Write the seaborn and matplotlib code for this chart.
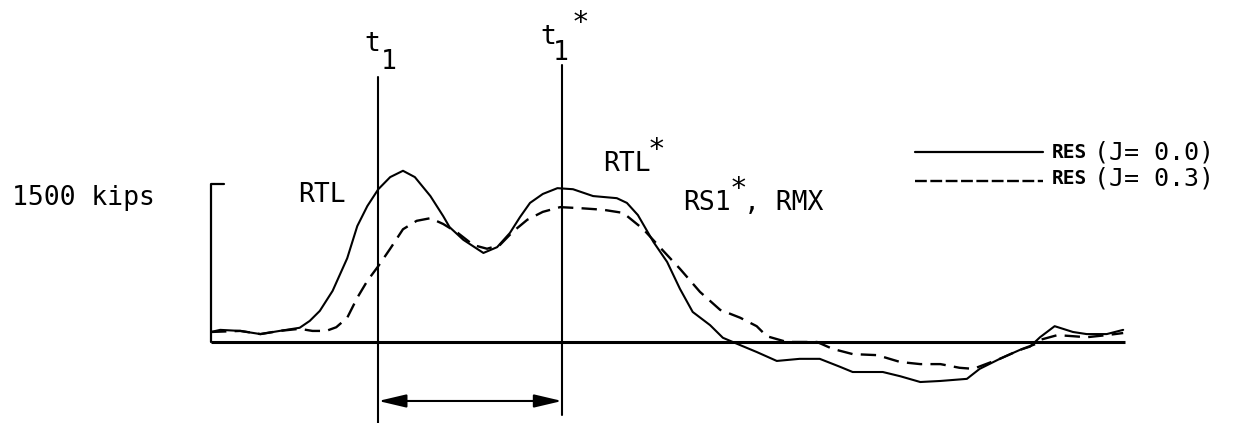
import matplotlib
matplotlib.use("Agg")
import matplotlib.pyplot as plt
import seaborn as sns
import pandas as pd

# ---------------- data ----------------
# time (arbitrary units, 0..100 along the base line) and resistance (kips)
t_j00 = [0, 1.0, 3.2, 5.4, 7.5, 9.7, 10.8, 11.9, 13.3, 14.9, 16.0, 17.1, 18.3, 19.6, 21.0,
         22.3, 24.0, 25.4, 26.1, 27.6, 29.8, 31.3, 32.7, 33.8, 34.9, 36.3, 37.9, 39.6, 41.8,
         44.4, 45.5, 46.7, 48.4, 49.9, 51.3, 52.7, 54.6, 56.0, 57.9, 59.7, 61.9, 64.4, 66.6,
         68.8, 70.2, 73.5, 75.4, 77.6, 79.8, 82.7, 84.1, 86.3, 88.5, 89.6, 90.7, 92.3, 94.3,
         95.8, 98.0, 99.8]
res_j00 = [95, 115, 105, 75, 105, 135, 200, 295, 485, 795, 1100, 1290, 1450, 1565, 1625,
           1565, 1385, 1195, 1090, 970, 845, 900, 1035, 1185, 1320, 1405, 1460, 1450, 1385,
           1365, 1320, 1205, 950, 760, 505, 285, 160, 40, -30, -95, -180, -160, -160,
           -235, -285, -285, -325, -380, -370, -350, -255, -160, -75, -45, 45, 150, 95,
           75, 75, 115]

t_j03 = [0, 3.2, 5.4, 7.5, 9.7, 11.1, 12.6, 13.7, 14.9, 16.0, 17.1, 18.3, 19.6, 21.0, 22.5,
         24.0, 25.4, 27.0, 28.7, 30.2, 31.6, 33.0, 34.6, 36.3, 38.2, 40.4, 42.9, 45.1, 47.3,
         49.1, 51.3, 53.5, 55.7, 57.9, 59.7, 60.8, 63.0, 66.3, 68.0, 70.2, 72.9, 75.4, 77.6,
         79.8, 81.9, 83.4, 86.3, 88.5, 90.2, 90.7, 92.6, 94.3, 95.8, 98.0, 99.8]
res_j03 = [95, 105, 75, 105, 125, 105, 105, 140, 230, 420, 580, 720, 885, 1070, 1150,
           1175, 1120, 1035, 920, 885, 920, 1045, 1160, 1235, 1280, 1270, 1255, 1225, 1070,
           900, 695, 475, 305, 230, 150, 55, 0, 0, -65, -115, -125, -190, -210,
           -210, -245, -255, -160, -75, -20, 20, 65, 55, 45, 65, 85]

series_labels = ["RES (J= 0.0)", "RES (J= 0.3)"]
t_start, t_end = 0, 100
t1, t1_star = 18.3, 38.4
scale_kips = 1500

# ---------------- figure ----------------
sns.set_theme(style="white")
plt.rcParams['font.family'] = ['DejaVu Sans Mono', 'DejaVu Sans']
plt.rcParams['text.color'] = 'black'

fig = plt.figure(figsize=(12.58, 4.23), dpi=100)
ax = fig.add_axes([0, 0, 1, 1])
ax.set_xlim(-23.09, 114.55)
ax.set_ylim(-769, 3246)
ax.axis("off")

df = pd.concat([
    pd.DataFrame({"t": t_j00, "kips": res_j00, "series": series_labels[0]}),
    pd.DataFrame({"t": t_j03, "kips": res_j03, "series": series_labels[1]}),
])

sns.lineplot(data=df[df.series == series_labels[0]], x="t", y="kips", ax=ax,
             color="black", lw=1.5, estimator=None, legend=False,
             solid_joinstyle="round")
sns.lineplot(data=df[df.series == series_labels[1]], x="t", y="kips", ax=ax,
             color="black", lw=1.7, linestyle=(0, (6.5, 3.5)), estimator=None, legend=False,
             dash_joinstyle="round")

# base line
ax.plot([t_start, t_end], [0, 0], color="black", lw=2.2, solid_capstyle="butt")
# scale bracket (1500 kips)
ax.plot([t_start, t_start, t_start + 1.4], [0, scale_kips, scale_kips], color="black", lw=1.6)
ax.text(-21.8, 1367, "1500 kips", fontsize=19, ha="left", va="center", color="black")

# t1 and t1* markers
ax.plot([t1, t1], [2515, -769], color="black", lw=1.5)
ax.plot([t1_star, t1_star], [2629, -693], color="black", lw=1.5)
ax.annotate("", xy=(t1, -560), xytext=(t1_star, -560),
            arrowprops=dict(arrowstyle="<|-|>,head_length=0.85,head_width=0.2",
                            color="black", lw=1.5, shrinkA=0, shrinkB=0,
                            mutation_scale=20))

txt = dict(fontsize=19, color="black", va="center")
ax.text(17.7, 2828, "t", ha="center", **txt)
ax.text(19.4, 2657, "1", ha="center", **txt)
ax.text(36.9, 2894, "t", ha="center", **txt)
ax.text(38.3, 2743, "1", ha="center", **txt)
ax.text(40.4, 3030, "*", ha="center", fontsize=21, color="black", va="center")

# curve labels
ax.text(9.5, 1395, "RTL", ha="left", **txt)
ax.text(42.9, 1689, "RTL", ha="left", **txt)
ax.text(48.7, 1820, "*", ha="center", fontsize=21, color="black", va="center")
ax.text(51.6, 1319, "RS1", ha="left", **txt)
ax.text(57.7, 1450, "*", ha="center", fontsize=21, color="black", va="center")
ax.text(58.3, 1319, ", RMX", ha="left", **txt)

# legend
ax.plot([77.0, 91.0], [1803, 1803], color="black", lw=1.6)
ax.plot([77.0, 91.0], [1528, 1528], color="black", lw=1.7, linestyle=(0, (5, 1.5)))
for yk, lab in zip([1803, 1556], series_labels):
    name, rest = lab.split(" ", 1)
    ax.text(92.0, yk, name, fontsize=14, fontweight="bold", ha="left", va="center", color="black")
    ax.text(96.6, yk, rest, fontsize=18, ha="left", va="center", color="black")

fig.savefig("out.png", dpi=100, facecolor="white")
